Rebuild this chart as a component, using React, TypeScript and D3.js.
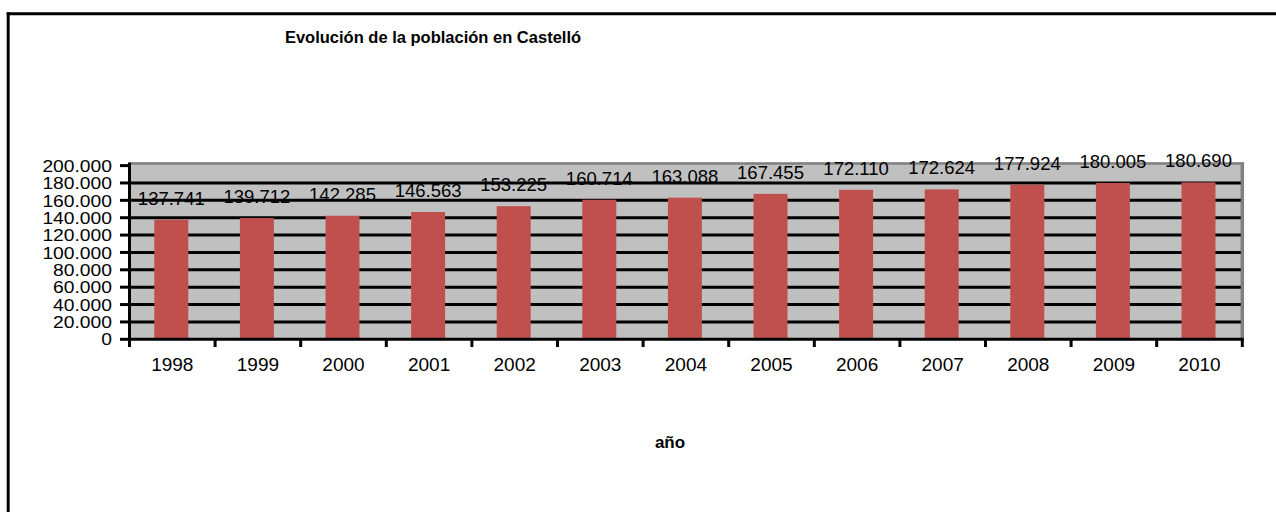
import React from "react";
import * as d3 from "d3";

const years = ["1998","1999","2000","2001","2002","2003","2004","2005","2006","2007","2008","2009","2010"];
const population = [137741,139712,142285,146563,153225,160714,163088,167455,172110,172624,177924,180005,180690];
const yTicks = [0,20000,40000,60000,80000,100000,120000,140000,160000,180000,200000];
const title = "Evolución de la población en Castelló";
const xTitle = "año";

const fmt = (v: number) => {
  if (v === 0) return "0";
  const s = String(v);
  return s.slice(0, s.length - 3) + "." + s.slice(s.length - 3);
};

export default function App() {
  const W = 1276, H = 512;
  const left = 129.5, right = 1242.3, top = 165.6, bottom = 339.3;
  const x = d3.scaleBand<string>().domain(years).range([left, right]).paddingInner(0).paddingOuter(0);
  const y = d3.scaleLinear().domain([0, 200000]).range([bottom, top]);
  const bw = 34;
  const font = "'Liberation Sans', Arial, sans-serif";
  const boundaries = [left, ...years.map((d) => (x(d) as number) + x.bandwidth())];
  return (
    <svg width={W} height={H} style={{ position: "absolute", left: 0, top: 0, background: "#fff", overflow: "hidden" }} fontFamily={font}>
      {/* outer frame: only left and top edges are visible */}
      <line x1={8.2} x2={8.2} y1={12.2} y2={H + 10} stroke="#000" strokeWidth={3} />
      <line x1={6.7} x2={W + 10} y1={13.7} y2={13.7} stroke="#000" strokeWidth={3} />
      <text x={433} y={43} textAnchor="middle" fontWeight="bold" fontSize={16.5}>{title}</text>
      {/* plot area */}
      <rect x={left} y={162.5} width={right - left} height={bottom - 162.5} fill="#C0C0C0" />
      <line x1={left} x2={right + 1.5} y1={163.5} y2={163.5} stroke="#808080" strokeWidth={2.5} />
      <line x1={right} x2={right} y1={162.5} y2={bottom} stroke="#808080" strokeWidth={3.5} />
      {/* gridlines */}
      {yTicks.filter((t) => t > 0 && t < 200000).map((t) => (
        <line key={t} x1={left} x2={right - 1.5} y1={y(t)} y2={y(t)} stroke="#000" strokeWidth={3} />
      ))}
      {/* bars */}
      {population.map((v, i) => {
        const cx = (x(years[i]) as number) + x.bandwidth() / 2 - 1;
        return (
          <rect key={years[i]} x={cx - bw / 2} y={y(v)} width={bw} height={bottom - y(v)} fill="#C0504D" />
        );
      })}
      {/* data labels */}
      {population.map((v, i) => {
        const cx = (x(years[i]) as number) + x.bandwidth() / 2 - 1;
        return (
          <text key={"l" + years[i]} x={cx} y={y(v) - 15} textAnchor="middle" fontSize={18.5}>{fmt(v)}</text>
        );
      })}
      {/* y axis */}
      <line x1={left} x2={left} y1={162.5} y2={347} stroke="#000" strokeWidth={3} />
      {yTicks.map((t) => (
        <g key={"yt" + t}>
          <line x1={120} x2={left} y1={y(t)} y2={y(t)} stroke="#000" strokeWidth={3} />
          <text transform={`translate(112,${y(t)}) scale(1.12,1)`} dy="0.36em" textAnchor="end" fontSize={17.2}>{fmt(t)}</text>
        </g>
      ))}
      {/* x axis */}
      <line x1={left} x2={right + 1.5} y1={bottom} y2={bottom} stroke="#000" strokeWidth={3} />
      {boundaries.map((b, i) => (
        <line key={"xt" + i} x1={b} x2={b} y1={bottom} y2={347} stroke="#000" strokeWidth={3} />
      ))}
      {years.map((d) => (
        <text key={"x" + d} x={(x(d) as number) + x.bandwidth() / 2} y={370.5} textAnchor="middle" fontSize={19}>{d}</text>
      ))}
      <text x={670} y={448} textAnchor="middle" fontWeight="bold" fontSize={17}>{xTitle}</text>
    </svg>
  );
}
